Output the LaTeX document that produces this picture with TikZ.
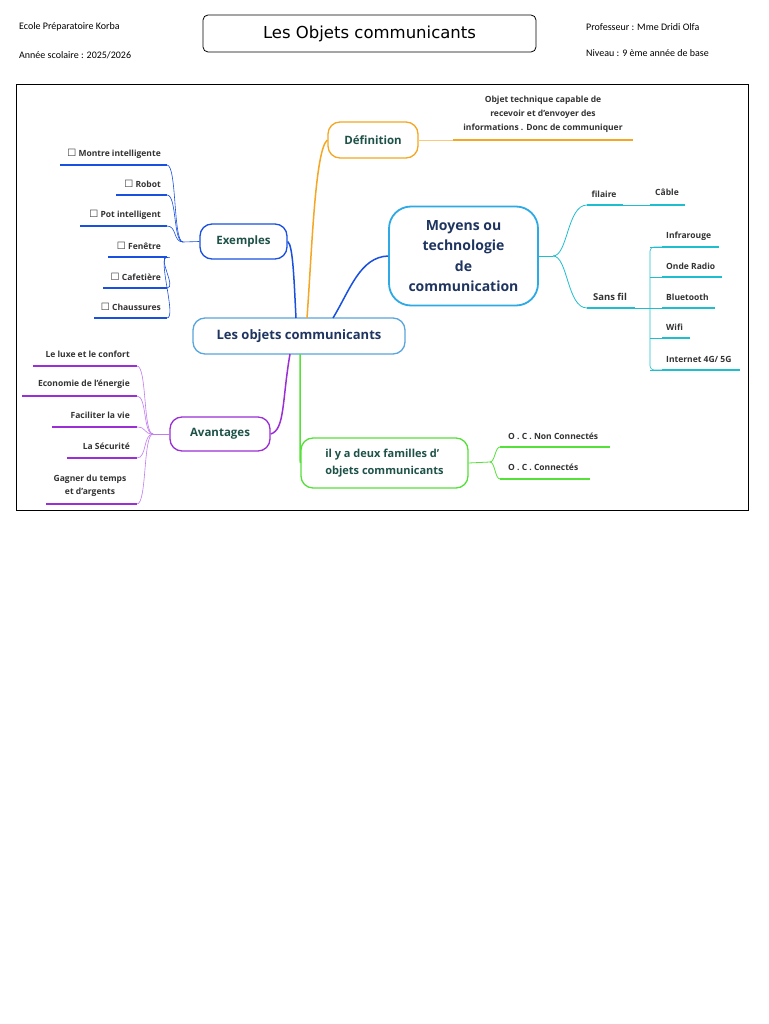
\documentclass[tikz,border=0pt]{standalone}
\usepackage{fontspec}
\setmainfont{Open Sans}
\newfontfamily\hdr{Carlito}
\newfontfamily\ttl{DejaVu Sans}
\newfontfamily\sym{DejaVu Sans}
\begin{document}
\begin{tikzpicture}[x=1pt,y=-1pt,
  box/.style={draw,line width=1.3pt,rounded corners=12pt,inner sep=0pt,font=\fontsize{11.5}{13}\selectfont\bfseries,text=titc,align=center},
  lbl/.style={font=\fontsize{8.5}{10}\selectfont\bfseries,text=black!80,inner sep=1pt},
  hd/.style={font=\hdr\fontsize{10}{12}\selectfont,anchor=west,inner sep=0pt}]
\definecolor{titc}{HTML}{1E5248}
\definecolor{navy}{HTML}{1F3560}
\definecolor{cblue}{HTML}{5AA5DC}
\definecolor{eblue}{HTML}{1A50E0}
\definecolor{mblue}{HTML}{2DAAE6}
\definecolor{orng}{HTML}{F5A623}
\definecolor{purp}{HTML}{9B2FD6}
\definecolor{lpurp}{HTML}{C27CF0}
\definecolor{grn}{HTML}{55E03A}
\definecolor{teal}{HTML}{1FBECE}
\useasboundingbox (0,0) rectangle (768,1024);
\fill[white] (0,0) rectangle (768,1024);
% header
\node[hd] (h1) at (19,27) {Ecole Préparatoire Korba};
\node[hd] (h2) at (19,55) {Année scolaire : 2025/2026};
\node[hd] (h3) at (586,27) {Professeur : Mme Dridi Olfa};
\node[hd] (h4) at (586,53) {Niveau : 9 ème année de base};
\draw[rounded corners=5pt,line width=0.8pt] (203,15) rectangle (536,52);
\node[font=\ttl\fontsize{16.5}{18}\selectfont] (title) at (369.5,33.5) {Les Objets communicants};
\draw[line width=0.8pt] (16,84) rectangle (748,510);
% main nodes
\node[box,draw=cblue,text=navy,minimum width=212pt,minimum height=36pt,font=\fontsize{13}{15}\selectfont\bfseries] (c) at (299,336) {Les objets communicants};
\node[box,draw=orng,minimum width=90pt,minimum height=36pt] (def) at (373,140) {Définition};
\node[box,draw=eblue,minimum width=87pt,minimum height=35pt] (ex) at (243.5,241.5) {Exemples};
\node[box,draw=mblue,text=navy,rounded corners=22pt,minimum width=149pt,minimum height=99pt,line width=1.8pt,font=\fontsize{14}{20.5}\selectfont\bfseries] (moy) at (463.5,256) {Moyens ou\\technologie\\de\\communication};
\node[box,draw=purp,minimum width=100pt,minimum height=34pt] (av) at (220,434) {Avantages};
\node[box,draw=grn,minimum width=167pt,minimum height=50pt,font=\fontsize{11}{17}\selectfont\bfseries,align=left] (fam) at (384.5,463) {il y a deux familles d'\\objets communicants};
% main connectors
\draw[orng,line width=1.5pt] (307,318) .. controls (312,250) and (315,150) .. (def.west);
\draw[eblue,line width=1.5pt] (296,318) .. controls (294,280) and (293,245) .. (ex.east);
\draw[eblue,line width=1.5pt] (333,318) .. controls (350,290) and (360,257) .. (moy.west);
\draw[purp,line width=1.5pt] (290,354) .. controls (282,400) and (285,430) .. (av.east);
\draw[grn,line width=1.5pt] (300,354) -- (300,450) .. controls (300,458) .. (fam.west);
% definition
\node[lbl,align=center,font=\fontsize{8.5}{14}\selectfont\bfseries] (dt) at (543,114) {Objet technique capable de\\recevoir et d'envoyer des\\informations . Donc de communiquer};
\coordinate (d1) at (453,140); \coordinate (d2) at (633,140);
\draw[orng!60,line width=0.6pt] (def.east) -- (d1);
\draw[orng,line width=1.8pt] (d1) -- (d2);
% exemples
\coordinate (ef) at (183,242);
\draw[eblue,line width=0.6pt] (ex.west) -- (ef);
\foreach \n/\xa/\y/\t in {m/60/165/Montre intelligente,r/116/195/Robot,p/80/226/Pot intelligent,f/108/257/Fenêtre,ca/103/288/Cafetière,ch/94/318/Chaussures}{
  \coordinate (e\n) at (167,\y);
  \draw[eblue,line width=1.8pt] (\xa,\y) -- (e\n);
  \draw[eblue,line width=0.6pt] (ef) .. controls +(-10,0) and +(10,0) .. (e\n);
  \node[lbl,anchor=east] (t\n) at (162,\y-11) {{\sym\fontsize{10}{10}\selectfont ☐} \t};
}
% avantages
\coordinate (af) at (153,434);
\draw[lpurp,line width=0.6pt] (av.west) -- (af);
\foreach \n/\xa/\y/\t in {lu/33/366/Le luxe et le confort,ec/22/396/Economie de l'énergie,fa/52/427/Faciliter la vie,se/67/458/La Sécurité,ga/46/504/{}}{
  \coordinate (a\n) at (137,\y);
  \draw[purp,line width=1.8pt] (\xa,\y) -- (a\n);
  \draw[lpurp,line width=0.6pt] (af) .. controls +(-10,0) and +(10,0) .. (a\n);
  \node[lbl,anchor=east] (t\n) at (131,\y-12) {\t};
}
\node[lbl,align=center,font=\fontsize{8.5}{13}\selectfont\bfseries] (tg) at (90,486) {Gagner du temps\\et d'argents};
% moyens branches
\coordinate (mf) at (553,256);
\draw[teal,line width=0.8pt] (moy.east) -- (mf);
\coordinate (fl) at (587,205); \coordinate (fr) at (623,205);
\coordinate (sl) at (587,308); \coordinate (sr) at (635,308);
\draw[teal,line width=0.8pt] (mf) .. controls +(15,0) and +(-20,0) .. (fl);
\draw[teal,line width=0.8pt] (mf) .. controls +(15,0) and +(-20,0) .. (sl);
\draw[teal,line width=1.8pt] (fl) -- (fr);
\draw[teal,line width=1.8pt] (sl) -- (sr);
\node[lbl] (tfil) at (604,194) {filaire};
\node[lbl,font=\fontsize{9.5}{10}\selectfont\bfseries] (tsf) at (610,297) {Sans fil};
\coordinate (cbl) at (650,205); \coordinate (cbr) at (685,205);
\draw[teal,line width=0.6pt] (fr) -- (cbl);
\draw[teal,line width=1.8pt] (cbl) -- (cbr);
\node[lbl] (tcb) at (667,192) {Câble};
\draw[teal,line width=0.6pt] (sr) -- (650,308);
\draw[teal,line width=0.6pt,rounded corners=4pt] (662,247) -- (650,247) -- (650,370) -- (662,370);
\foreach \n/\xb/\y/\t in {in/719/247/Infrarouge,on/722/277/Onde Radio,bl/715/308/Bluetooth,wi/690/338/Wifi,it/740/370/{Internet 4G/ 5G}}{
  \coordinate (s\n) at (662,\y);
  \draw[teal,line width=0.6pt] (650,\y) -- (s\n);
  \draw[teal,line width=1.8pt] (s\n) -- (\xb,\y);
  \node[lbl,anchor=west] (t\n) at (665,\y-11) {\t};
}
% familles
\coordinate (ff) at (490,462);
\draw[grn,line width=0.8pt] (fam.east) -- (ff);
\coordinate (n1) at (500,447); \coordinate (n2) at (500,479);
\draw[grn,line width=0.8pt] (ff) .. controls +(5,0) and +(-5,0) .. (n1);
\draw[grn,line width=0.8pt] (ff) .. controls +(5,0) and +(-5,0) .. (n2);
\draw[grn,line width=1.8pt] (n1) -- (610,447);
\draw[grn,line width=1.8pt] (n2) -- (590,479);
\node[lbl,anchor=west] (tn1) at (507,436) {O . C . Non Connectés};
\node[lbl,anchor=west] (tn2) at (507,467) {O . C . Connectés};
\end{tikzpicture}
\end{document}
